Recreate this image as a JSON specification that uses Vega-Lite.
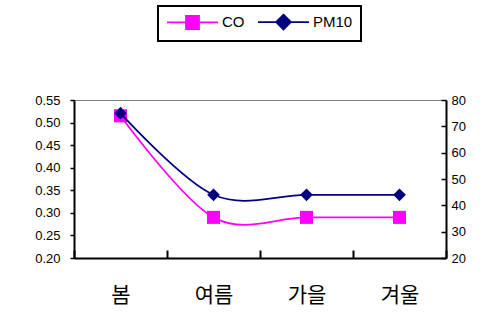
{
  "$schema": "https://vega.github.io/schema/vega-lite/v6.json",
  "width": 372,
  "height": 158,
  "autosize": "none",
  "padding": {"left": 74, "top": 100, "right": 47, "bottom": 59},
  "background": "white",
  "config": {
    "view": {"stroke": "#808080", "strokeWidth": 1},
    "font": "Liberation Sans"
  },
  "data": {
    "values": [
      {"season": "봄", "series": "CO", "value": 0.515},
      {"season": "여름", "series": "CO", "value": 0.29},
      {"season": "가을", "series": "CO", "value": 0.29},
      {"season": "겨울", "series": "CO", "value": 0.29},
      {"season": "봄", "series": "PM10", "value": 75},
      {"season": "여름", "series": "PM10", "value": 44},
      {"season": "가을", "series": "PM10", "value": 44},
      {"season": "겨울", "series": "PM10", "value": 44}
    ]
  },
  "encoding": {
    "x": {
      "field": "season",
      "type": "nominal",
      "sort": ["봄", "여름", "가을", "겨울"],
      "scale": {"type": "band", "paddingInner": 0, "paddingOuter": 0},
      "axis": {
        "title": null,
        "labelAngle": 0,
        "labelFont": "Noto Sans CJK KR",
        "labelFontSize": 21,
        "labelColor": "black",
        "labelPadding": 34,
        "tickBand": "extent",
        "tickSize": -8,
        "tickColor": "black",
        "tickWidth": 2,
        "domainColor": "black",
        "domainWidth": 2,
        "grid": false
      }
    },
    "color": {
      "field": "series",
      "type": "nominal",
      "scale": {"domain": ["CO", "PM10"], "range": ["#ff00ff", "#000080"]},
      "legend": {
        "orient": "none",
        "legendX": 84,
        "legendY": -94,
        "direction": "horizontal",
        "title": null,
        "padding": 8,
        "symbolSize": 196,
        "symbolStrokeWidth": 1.75,
        "symbolType": "M-3.64,0H3.64",
        "symbolOffset": 18.5,
        "labelFontSize": 15,
        "labelColor": "black",
        "labelOffset": 21.5,
        "columnPadding": 9,
        "encode": {
          "legend": {"update": {"stroke": {"value": "black"}, "strokeWidth": {"value": 2}}},
          "symbols": {
            "update": {
              "shape": {"signal": "datum.value === 'CO' ? 'M-3.64,0H3.64M-0.93,-0.93H0.93V0.93H-0.93Z' : 'M-3.64,0H3.64M0,-1.05L1.05,0L0,1.05L-1.05,0Z'"},
              "fill": {"signal": "datum.value === 'CO' ? '#ff00ff' : '#000080'"},
              "stroke": {"signal": "datum.value === 'CO' ? '#ff00ff' : '#000080'"},
              "opacity": {"value": 1},
              "fillOpacity": {"value": 1}
            }
          }
        }
      }
    }
  },
  "layer": [
    {
      "transform": [{"filter": "datum.series === 'CO'"}],
      "mark": {
        "type": "line",
        "interpolate": "cardinal",
        "strokeWidth": 1.75,
        "point": {"filled": true, "shape": "square", "size": 170, "opacity": 1}
      },
      "encoding": {
        "y": {
          "field": "value",
          "type": "quantitative",
          "scale": {"domain": [0.2, 0.55], "nice": false, "zero": false},
          "axis": {
            "orient": "left",
            "title": null,
            "values": [0.2, 0.25, 0.3, 0.35, 0.4, 0.45, 0.5, 0.55],
            "format": ".2f",
            "grid": false,
            "domainColor": "black",
            "domainWidth": 2,
            "tickColor": "black",
            "tickWidth": 1.5,
            "tickSize": 4,
            "labelPadding": 10,
            "labelFontSize": 13,
            "labelColor": "black"
          }
        }
      }
    },
    {
      "transform": [{"filter": "datum.series === 'PM10'"}],
      "mark": {
        "type": "line",
        "interpolate": "cardinal",
        "strokeWidth": 1.75,
        "point": {"filled": true, "shape": "diamond", "size": 160, "opacity": 1}
      },
      "encoding": {
        "y": {
          "field": "value",
          "type": "quantitative",
          "scale": {"domain": [20, 80], "nice": false, "zero": false},
          "axis": {
            "orient": "right",
            "title": null,
            "values": [20, 30, 40, 50, 60, 70, 80],
            "grid": false,
            "domainColor": "black",
            "domainWidth": 2,
            "tickColor": "black",
            "tickWidth": 1.5,
            "tickSize": -5,
            "labelPadding": 10,
            "labelFontSize": 13,
            "labelColor": "black"
          }
        }
      }
    }
  ],
  "resolve": {"scale": {"y": "independent"}}
}
